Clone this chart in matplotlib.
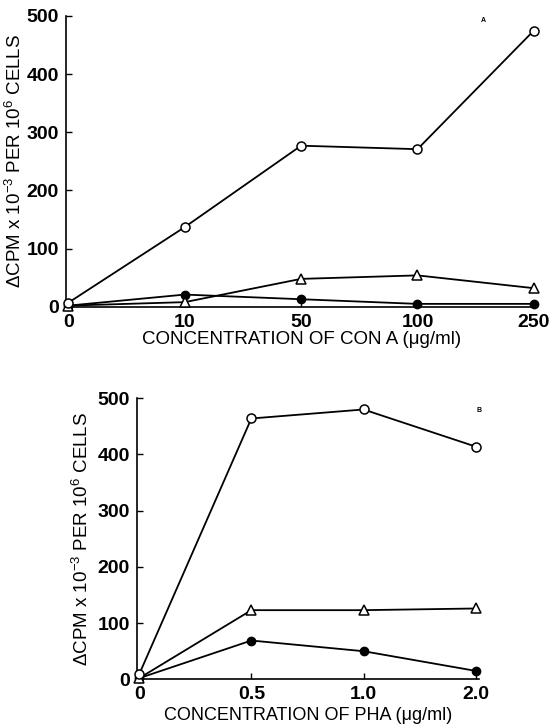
import matplotlib
matplotlib.use("Agg")
import matplotlib.pyplot as plt

plt.rcParams['font.family'] = ['Liberation Sans', 'DejaVu Sans']
plt.rcParams['mathtext.fontset'] = 'custom'
plt.rcParams['mathtext.rm'] = 'Liberation Sans'
plt.rcParams['mathtext.it'] = 'Liberation Sans:italic'
plt.rcParams['mathtext.bf'] = 'Liberation Sans:bold'

# Panel A: Con A
cona_labels = ["0", "10", "50", "100", "250"]
cona_open = [7, 137, 277, 271, 475]
cona_triangle = [2, 8, 48, 54, 32]
cona_filled = [2, 21, 13, 5, 5]

# Panel B: PHA
pha_labels = ["0", "0.5", "1.0", "2.0"]
pha_open = [9, 464, 480, 414]
pha_triangle = [2, 123, 123, 126]
pha_filled = [2, 69, 50, 15]

ylabel = r"$\Delta$CPM x 10$^{-3}$ PER 10$^{6}$ CELLS"
yticks = [0, 100, 200, 300, 400, 500]

fig = plt.figure(figsize=(5.5, 7.27), dpi=100)


def style(ax, labels):
    ax.spines['top'].set_visible(False)
    ax.spines['right'].set_visible(False)
    for s in ('left', 'bottom'):
        ax.spines[s].set_linewidth(1.2)
    ax.set_ylim(0, 500)
    ax.set_yticks(yticks)
    ax.set_xticks(range(len(labels)))
    ax.set_xticklabels(labels)
    ax.tick_params(direction='in', length=4, width=1.0, pad=5,
                   labelsize=14)
    for t in ax.get_xticklabels() + ax.get_yticklabels():
        t.set_fontweight('bold')


def series(ax, x, ys_open, ys_tri, ys_filled):
    kw = dict(color='black', lw=1.3, clip_on=False, zorder=3)
    ax.plot(x, ys_filled, marker='o', ms=6, mfc='black', mec='black', **kw)
    ax.plot(x, ys_tri, marker='^', ms=6.5, mfc='white', mec='black', mew=1.1, **kw)
    ax.plot(x, ys_open, marker='o', ms=6.5, mfc='white', mec='black', mew=1.1, **kw)


# Top panel
ax1 = fig.add_axes([0.12, 0.578, 0.857, 0.40])
x1 = list(range(len(cona_labels)))
series(ax1, x1, cona_open, cona_triangle, cona_filled)
style(ax1, cona_labels)
ax1.set_xlim(-0.02, 4.03)
ax1.set_xlabel("CONCENTRATION OF CON A (μg/ml)", fontsize=13.5)
ax1.set_ylabel(ylabel, fontsize=13.5)
ax1.xaxis.set_label_coords(0.5, -0.082)
ax1.yaxis.set_label_coords(-0.088, 0.5)
ax1.text(0.885, 0.985, "A", transform=ax1.transAxes, fontsize=5,
         fontweight='bold', ha='center', va='center')

# Bottom panel
ax2 = fig.add_axes([0.249, 0.0656, 0.622, 0.3866])
x2 = list(range(len(pha_labels)))
series(ax2, x2, pha_open, pha_triangle, pha_filled)
style(ax2, pha_labels)
ax2.set_xlim(-0.02, 3.03)
ax2.set_xlabel("CONCENTRATION OF PHA (μg/ml)", fontsize=13)
ax2.set_ylabel(ylabel, fontsize=13.5)
ax2.xaxis.set_label_coords(0.5, -0.100)
ax2.yaxis.set_label_coords(-0.13, 0.5)
ax2.text(1.0, 0.955, "B", transform=ax2.transAxes, fontsize=5,
         fontweight='bold', ha='center', va='center')

fig.savefig("out.png", dpi=100)
